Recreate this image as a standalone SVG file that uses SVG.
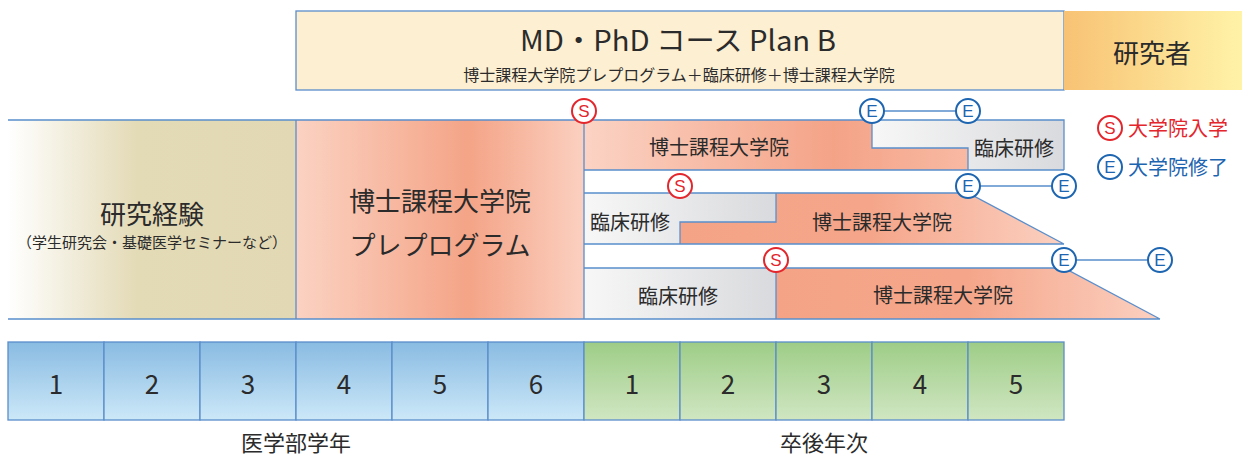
<svg xmlns="http://www.w3.org/2000/svg" width="1244" height="455" viewBox="0 0 1244 455">
<defs>
<linearGradient id="gHead" x1="0" y1="0" x2="1" y2="0"><stop offset="0" stop-color="#f8c274"/><stop offset="1" stop-color="#fff3a8"/></linearGradient>
<linearGradient id="gBeige" x1="0" y1="0" x2="1" y2="0"><stop offset="0" stop-color="#ffffff"/><stop offset="0.45" stop-color="#e3dab6"/><stop offset="1" stop-color="#e2d9b4"/></linearGradient>
<linearGradient id="gPre" x1="0" y1="0" x2="1" y2="0"><stop offset="0" stop-color="#fbd2c2"/><stop offset="0.6" stop-color="#f4a487"/><stop offset="1" stop-color="#fbd0c0"/></linearGradient>
<linearGradient id="gSal1" x1="0" y1="0" x2="1" y2="0"><stop offset="0" stop-color="#fbd3c4"/><stop offset="0.65" stop-color="#f4a387"/><stop offset="1" stop-color="#f8b9a3"/></linearGradient>
<linearGradient id="gSal2" x1="0" y1="0" x2="1" y2="0"><stop offset="0" stop-color="#f4a386"/><stop offset="0.5" stop-color="#f5a68a"/><stop offset="1" stop-color="#fbd0c0"/></linearGradient>
<linearGradient id="gGray" x1="0" y1="0" x2="1" y2="0"><stop offset="0" stop-color="#f7f7f7"/><stop offset="1" stop-color="#d9dadd"/></linearGradient>
<linearGradient id="gBlue" x1="0" y1="0" x2="0" y2="1"><stop offset="0" stop-color="#89bbe2"/><stop offset="1" stop-color="#cce8f8"/></linearGradient>
<linearGradient id="gGreen" x1="0" y1="0" x2="0" y2="1"><stop offset="0" stop-color="#9ecd87"/><stop offset="1" stop-color="#d0e6c2"/></linearGradient>
</defs>
<style>
text{font-family:"Noto Sans CJK JP","Noto Sans",sans-serif;fill:#2b2b2b;text-anchor:middle;dominant-baseline:central}
.ln{stroke:#5a8ecb;stroke-width:1.3;fill:none}
.cell{stroke:#5a8ecb;stroke-width:1.3}
.s circle{fill:#fff;stroke:#e3262c;stroke-width:2}
.s text{fill:#e3262c;font-size:17px;font-family:"Liberation Sans",sans-serif}
.e circle{fill:#fff;stroke:#1d65b0;stroke-width:2}
.e text{fill:#1d65b0;font-size:17px;font-family:"Liberation Sans",sans-serif}
.t21{font-size:20px}
.t26{font-size:26px}
.num{font-size:26px}
</style>
<rect width="1244" height="455" fill="#fff"/>

<g id="header">
<rect x="296" y="11" width="768" height="79" fill="#fdefd2" stroke="#5a8ecb" stroke-width="1.3"/>
<text x="678" y="39" font-size="28" textLength="316" lengthAdjust="spacingAndGlyphs">MD・PhD コース Plan B</text>
<text x="679" y="74" font-size="16">博士課程大学院プレプログラム＋臨床研修＋博士課程大学院</text>
</g>
<g id="researcher">
<rect x="1064" y="11" width="178" height="79" fill="url(#gHead)"/>
<text x="1152" y="51" class="t26">研究者</text>
</g>

<g id="research-exp">
<rect x="8" y="120" width="288" height="199" fill="url(#gBeige)"/>
<text x="152" y="212" class="t26">研究経験</text>
<text x="152" y="241" font-size="15">（学生研究会・基礎医学セミナーなど）</text>
</g>
<g id="pre-program">
<rect x="296" y="120" width="288" height="199" fill="url(#gPre)"/>
<text x="440" y="199" class="t26">博士課程大学院</text>
<text x="440" y="243" class="t26">プレプログラム</text>
</g>

<g id="row1">
<polygon points="584,120 872,120 872,148 968,148 968,170 584,170" fill="url(#gSal1)"/>
<polygon points="872,120 1064,120 1064,170 968,170 968,148 872,148" fill="url(#gGray)"/>
<text x="719" y="146" class="t21">博士課程大学院</text>
<text x="1014" y="147" class="t21">臨床研修</text>
</g>
<g id="row2">
<polygon points="584,193 776,193 776,222 680,222 680,244 584,244" fill="url(#gGray)"/>
<polygon points="776,193 968,193 1064,244 680,244 680,222 776,222" fill="url(#gSal2)"/>
<text x="630" y="221" class="t21">臨床研修</text>
<text x="882" y="221" class="t21">博士課程大学院</text>
</g>
<g id="row3">
<polygon points="584,268 776,268 776,319 584,319" fill="url(#gGray)"/>
<polygon points="776,268 1064,268 1160,319 776,319" fill="url(#gSal2)"/>
<text x="678" y="295" class="t21">臨床研修</text>
<text x="943" y="294" class="t21">博士課程大学院</text>
</g>

<g id="connectors">
<path class="ln" d="M8,120H1064V170M584,170H1064M872,120V148H968V170M584,193H968L1064,244M776,193V222H680V244M584,244H1064M584,268H1064L1160,319M776,268V319M8,319H1160M296,120V319M584,111V319"/>
<path class="ln" d="M872,111H968M968,186H1064M1064,260H1160"/>
</g>

<g id="markers">
<g class="s"><circle cx="584" cy="111" r="12"/><text x="584" y="111.5">S</text></g>
<g class="s"><circle cx="680" cy="186" r="12"/><text x="680" y="186.5">S</text></g>
<g class="s"><circle cx="776" cy="260" r="12"/><text x="776" y="260.5">S</text></g>
<g class="e"><circle cx="872" cy="111" r="12"/><text x="872" y="111.5">E</text></g>
<g class="e"><circle cx="968" cy="111" r="12"/><text x="968" y="111.5">E</text></g>
<g class="e"><circle cx="968" cy="186" r="12"/><text x="968" y="186.5">E</text></g>
<g class="e"><circle cx="1064" cy="186" r="12"/><text x="1064" y="186.5">E</text></g>
<g class="e"><circle cx="1064" cy="260" r="12"/><text x="1064" y="260.5">E</text></g>
<g class="e"><circle cx="1160" cy="260" r="12"/><text x="1160" y="260.5">E</text></g>
</g>

<g id="legend">
<g class="s"><circle cx="1110" cy="128" r="12"/><text x="1110" y="128.5">S</text></g>
<text x="1128" y="127" class="t21" style="text-anchor:start;fill:#e3262c">大学院入学</text>
<g class="e"><circle cx="1110" cy="167" r="12"/><text x="1110" y="167.5">E</text></g>
<text x="1128" y="166" class="t21" style="text-anchor:start;fill:#1d65b0">大学院修了</text>
</g>

<g id="med-years">
<rect class="cell" x="8" y="342" width="96" height="78" fill="url(#gBlue)"/>
<rect class="cell" x="104" y="342" width="96" height="78" fill="url(#gBlue)"/>
<rect class="cell" x="200" y="342" width="96" height="78" fill="url(#gBlue)"/>
<rect class="cell" x="296" y="342" width="96" height="78" fill="url(#gBlue)"/>
<rect class="cell" x="392" y="342" width="96" height="78" fill="url(#gBlue)"/>
<rect class="cell" x="488" y="342" width="96" height="78" fill="url(#gBlue)"/>
<text class="num" x="56" y="382">1</text>
<text class="num" x="152" y="382">2</text>
<text class="num" x="248" y="382">3</text>
<text class="num" x="344" y="382">4</text>
<text class="num" x="440" y="382">5</text>
<text class="num" x="536" y="382">6</text>
<text x="296" y="441" font-size="22">医学部学年</text>
</g>
<g id="post-years">
<rect class="cell" x="584" y="342" width="96" height="78" fill="url(#gGreen)"/>
<rect class="cell" x="680" y="342" width="96" height="78" fill="url(#gGreen)"/>
<rect class="cell" x="776" y="342" width="96" height="78" fill="url(#gGreen)"/>
<rect class="cell" x="872" y="342" width="96" height="78" fill="url(#gGreen)"/>
<rect class="cell" x="968" y="342" width="96" height="78" fill="url(#gGreen)"/>
<text class="num" x="632" y="382">1</text>
<text class="num" x="728" y="382">2</text>
<text class="num" x="824" y="382">3</text>
<text class="num" x="920" y="382">4</text>
<text class="num" x="1016" y="382">5</text>
<text x="824" y="441" font-size="22">卒後年次</text>
</g>
</svg>
